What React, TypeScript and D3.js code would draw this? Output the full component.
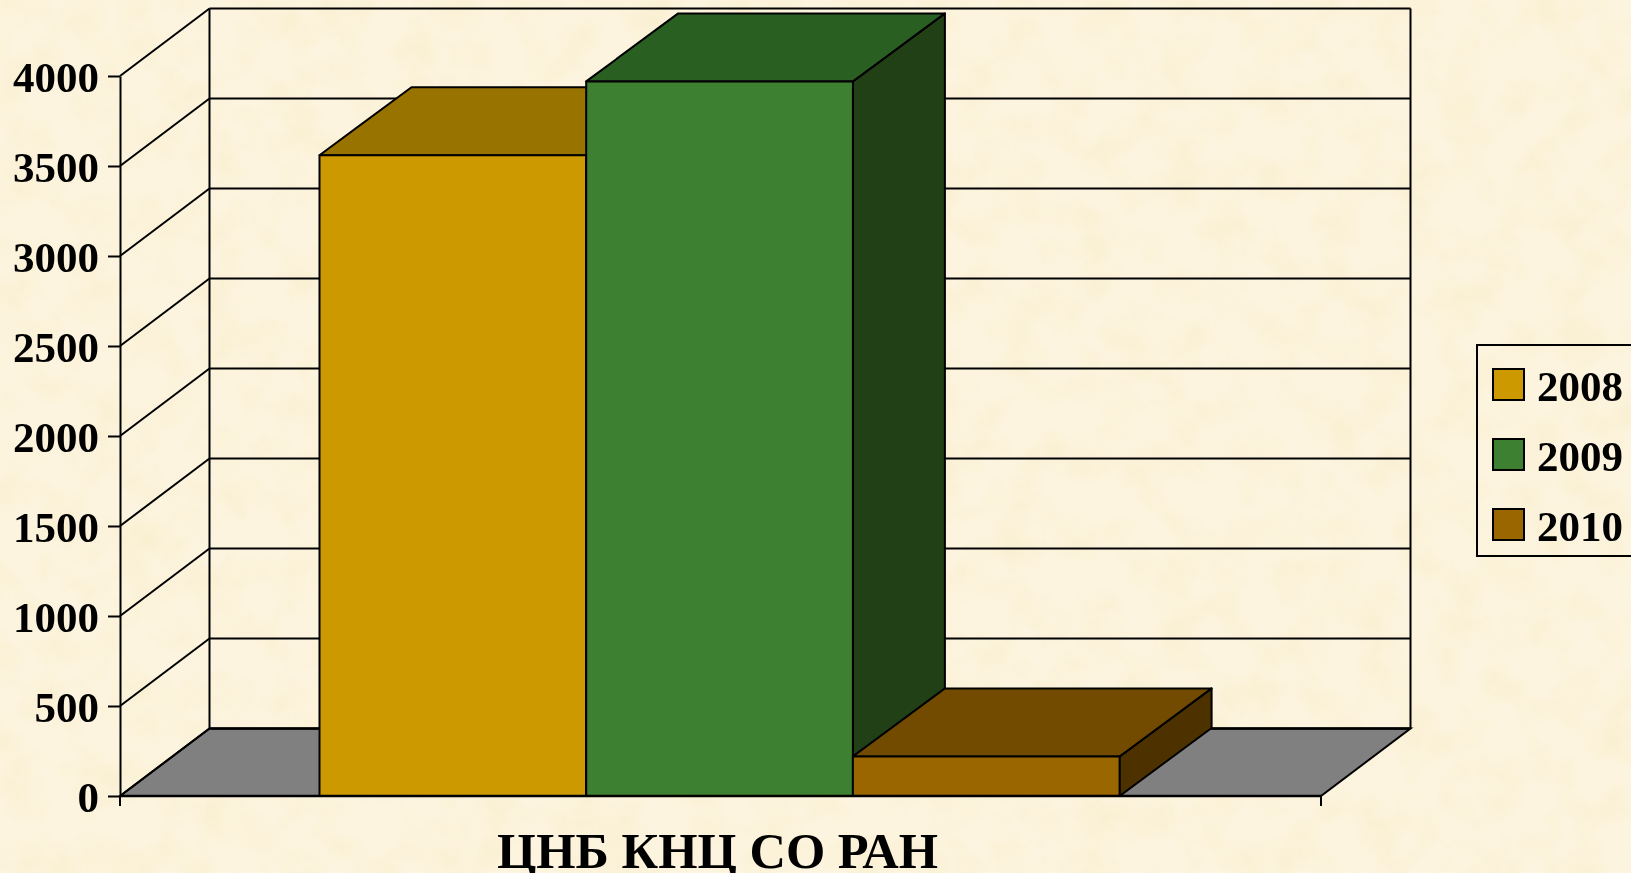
import React, { useEffect, useRef } from 'react';
import * as d3 from 'd3';

const years = ['2008', '2009', '2010'];
const values = [3560, 3970, 220];
const frontColors = ['#cc9900', '#3c8031', '#996600'];
const topColors = ['#997300', '#2c5f24', '#734c00'];
const sideColors = ['#664d00', '#203f17', '#4d3300'];
const yTicks = [0, 500, 1000, 1500, 2000, 2500, 3000, 3500, 4000];
const categoryLabel = 'ЦНБ КНЦ СО РАН';

const WIDTH = 1631;
const HEIGHT = 873;
const FONT = '"Liberation Serif", "Times New Roman", serif';

export default function App() {
  const svgRef = useRef<SVGSVGElement>(null);

  useEffect(() => {
    if (!svgRef.current) return;
    const svg = d3.select(svgRef.current);
    svg.selectAll('*').remove();

    // --- SCALES ---
    const y = d3.scaleLinear().domain([0, 4000]).range([796, 76]);
    const x = d3.scaleBand().domain(years).range([319.5, 1119.6]).padding(0);

    // 3d offset of the walls and of the bars
    const wallDx = 89.5;
    const wallDy = 67.5;
    const barDx = 92;
    const barDy = 68;
    const axisLeft = 120;
    const axisRight = 1321;
    const thin = 2;
    const thick = 2.6;

    // parchment background
    const defs = svg.append('defs');
    const paper = defs.append('filter').attr('id', 'paper').attr('x', 0).attr('y', 0).attr('width', '100%').attr('height', '100%');
    paper.append('feTurbulence').attr('type', 'fractalNoise').attr('baseFrequency', 0.025).attr('numOctaves', 4).attr('seed', 7);
    paper.append('feColorMatrix').attr('type', 'matrix')
      .attr('values', '0 0 0 0 0.93  0 0 0 0 0.84  0 0 0 0 0.58  2 0 0 0 -0.8');
    const soft = defs.append('filter').attr('id', 'soft');
    soft.append('feGaussianBlur').attr('stdDeviation', 0.5);

    svg.append('rect').attr('width', WIDTH).attr('height', HEIGHT).attr('fill', '#fdf4df');
    svg.append('rect').attr('width', WIDTH).attr('height', HEIGHT).attr('filter', 'url(#paper)').attr('opacity', 0.6);

    const root = svg.append('g').attr('filter', 'url(#soft)');

    // --- FLOOR ---
    root.append('polygon')
      .attr('points', [
        [axisLeft, y(0)],
        [axisLeft + wallDx, y(0) - wallDy],
        [axisRight + wallDx, y(0) - wallDy],
        [axisRight, y(0)],
      ].join(' '))
      .attr('fill', '#808080')
      .attr('stroke', '#000')
      .attr('stroke-width', thin);

    // --- WALLS AND GRID ---
    const grid = root.append('g').attr('stroke', '#000').attr('stroke-width', thin).attr('fill', 'none');
    grid.selectAll('.back')
      .data(yTicks)
      .join('line')
      .attr('x1', axisLeft + wallDx)
      .attr('x2', axisRight + wallDx)
      .attr('y1', d => y(d) - wallDy)
      .attr('y2', d => y(d) - wallDy)
      .attr('stroke-width', d => (d === 0 ? thick : thin));
    grid.selectAll('.side')
      .data(yTicks)
      .join('line')
      .attr('x1', axisLeft)
      .attr('x2', axisLeft + wallDx)
      .attr('y1', d => y(d))
      .attr('y2', d => y(d) - wallDy);
    grid.append('line')
      .attr('x1', axisLeft + wallDx).attr('x2', axisLeft + wallDx)
      .attr('y1', y(4000) - wallDy).attr('y2', y(0) - wallDy);
    grid.append('line')
      .attr('x1', axisRight + wallDx).attr('x2', axisRight + wallDx)
      .attr('y1', y(4000) - wallDy).attr('y2', y(0) - wallDy);

    // --- BARS ---
    years.forEach((year, i) => {
      const x0 = x(year)!;
      const x1 = x0 + x.bandwidth();
      const yTop = y(values[i]);
      const g = root.append('g').attr('stroke', '#000').attr('stroke-width', thin).attr('stroke-linejoin', 'round');
      g.append('polygon')
        .attr('points', [[x1, yTop], [x1 + barDx, yTop - barDy], [x1 + barDx, y(0) - barDy], [x1, y(0)]].join(' '))
        .attr('fill', sideColors[i]);
      g.append('polygon')
        .attr('points', [[x0, yTop], [x0 + barDx, yTop - barDy], [x1 + barDx, yTop - barDy], [x1, yTop]].join(' '))
        .attr('fill', topColors[i]);
      g.append('rect')
        .attr('x', x0)
        .attr('y', yTop)
        .attr('width', x.bandwidth())
        .attr('height', y(0) - yTop)
        .attr('fill', frontColors[i]);
    });

    // --- AXES ---
    const axisG = root.append('g')
      .attr('transform', `translate(${axisLeft},0)`)
      .call(d3.axisLeft(y).tickValues(yTicks).tickSize(12).tickPadding(9).tickSizeOuter(0).tickFormat(d3.format('d')))
      .attr('font-family', FONT)
      .attr('font-size', 43)
      .attr('font-weight', 700)
      .attr('color', '#000');
    axisG.selectAll('line').attr('stroke-width', thin);
    axisG.select('.domain').attr('stroke-width', thin);
    axisG.selectAll('text').attr('transform', 'translate(0,2)');

    root.append('line')
      .attr('x1', axisLeft).attr('x2', axisRight)
      .attr('y1', y(0)).attr('y2', y(0))
      .attr('stroke', '#000').attr('stroke-width', thick);
    root.selectAll('.xtick')
      .data([axisLeft, axisRight])
      .join('line')
      .attr('x1', d => d).attr('x2', d => d)
      .attr('y1', y(0)).attr('y2', y(0) + 10)
      .attr('stroke', '#000').attr('stroke-width', thin);

    root.append('text')
      .attr('x', 717.5)
      .attr('y', 868)
      .attr('text-anchor', 'middle')
      .attr('font-family', FONT)
      .attr('font-size', 50.5)
      .attr('font-weight', 700)
      .attr('fill', '#000')
      .text(categoryLabel);

    // --- LEGEND ---
    const legend = root.append('g');
    legend.append('rect')
      .attr('x', 1477).attr('y', 345)
      .attr('width', 180).attr('height', 211)
      .attr('fill', 'none').attr('stroke', '#000').attr('stroke-width', thin);
    const legendY = d3.scalePoint().domain(years).range([369, 509]);
    years.forEach((year, i) => {
      legend.append('rect')
        .attr('x', 1493).attr('y', legendY(year)!)
        .attr('width', 31).attr('height', 31)
        .attr('fill', frontColors[i])
        .attr('stroke', '#000').attr('stroke-width', thin);
      legend.append('text')
        .attr('x', 1537).attr('y', legendY(year)! + 32)
        .attr('font-family', FONT)
        .attr('font-size', 43)
        .attr('font-weight', 700)
        .attr('fill', '#000')
        .text(year);
    });
  }, []);

  return (
    <svg
      ref={svgRef}
      width={WIDTH}
      height={HEIGHT}
      style={{ position: 'fixed', top: 0, left: 0, display: 'block' }}
    />
  );
}
